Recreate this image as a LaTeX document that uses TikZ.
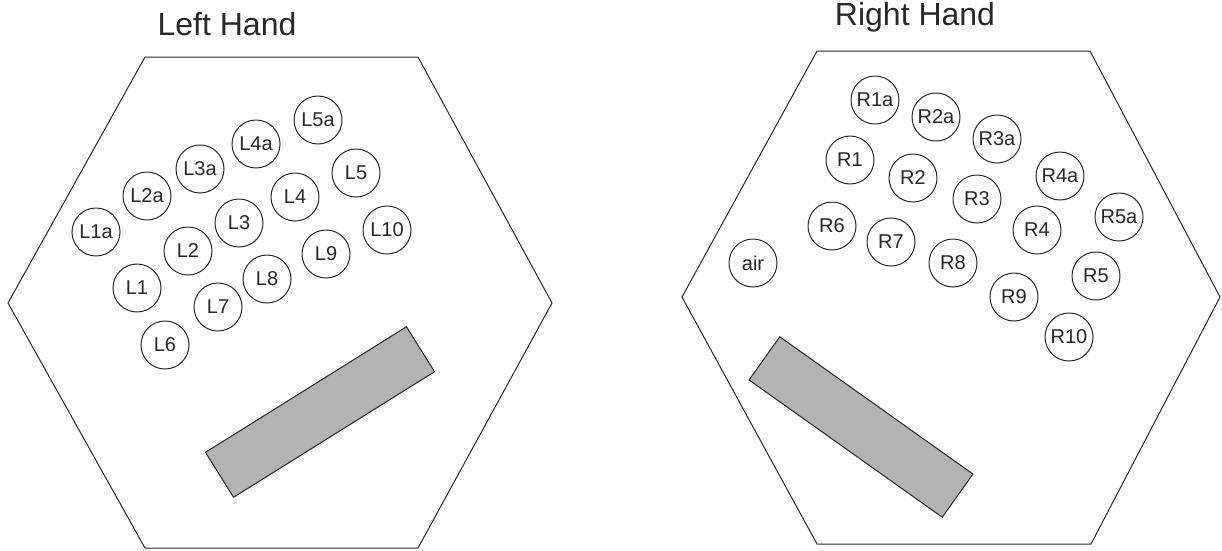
\documentclass[tikz,border=0pt]{standalone}
\usepackage{fontspec}
\setmainfont{Liberation Sans}
\definecolor{barfill}{RGB}{179,179,179}
\definecolor{ink}{RGB}{40,40,40}
\begin{document}
\begin{tikzpicture}[x=1pt,y=-1pt,
  key/.style={circle,draw=ink,line width=1pt,minimum size=48pt,inner sep=0pt,text=ink,font=\fontsize{20}{24}\selectfont},
  hex/.style={draw=ink,line width=1pt},
  bar/.style={draw=ink,line width=1pt,fill=barfill,minimum width=237pt,minimum height=53pt,inner sep=0pt},
  title/.style={anchor=base,text=ink,font=\fontsize{32}{38}\selectfont}]
\useasboundingbox (0,0) rectangle (1222,550);
% ---------- Left hand ----------
\node[title] (tl) at (227,35) {Left Hand};
\coordinate (la) at (145,57);
\coordinate (lb) at (418,57);
\coordinate (lc) at (552,303);
\coordinate (ld) at (418,548);
\coordinate (le) at (145,548);
\coordinate (lf) at (8,303);
\draw[hex] (la) -- (lb) -- (lc) -- (ld) -- (le) -- (lf) -- cycle;
\node[key] (L5a) at (318,120) {L5a};
\node[key] (L4a) at (256,144) {L4a};
\node[key] (L3a) at (200,169) {L3a};
\node[key] (L2a) at (147,196) {L2a};
\node[key] (L1a) at (96,232) {L1a};
\node[key] (L5) at (356,173) {L5};
\node[key] (L4) at (295,197) {L4};
\node[key] (L3) at (239,223) {L3};
\node[key] (L2) at (188,251) {L2};
\node[key] (L1) at (137,288) {L1};
\node[key] (L10) at (387,230) {L10};
\node[key] (L9) at (326,254) {L9};
\node[key] (L8) at (267,279) {L8};
\node[key] (L7) at (218,307) {L7};
\node[key] (L6) at (165,345) {L6};
\node[bar,rotate=32] (lbar) at (320,412) {};
% ---------- Right hand ----------
\node[title] (tr) at (915,25) {Right Hand};
\coordinate (ra) at (817,51);
\coordinate (rb) at (1090,51);
\coordinate (rc) at (1220,297);
\coordinate (rd) at (1091,544);
\coordinate (re) at (817,544);
\coordinate (rf) at (682,297);
\draw[hex] (ra) -- (rb) -- (rc) -- (rd) -- (re) -- (rf) -- cycle;
\node[key] (R1a) at (875,100) {R1a};
\node[key] (R2a) at (936,117) {R2a};
\node[key] (R3a) at (997,139) {R3a};
\node[key] (R4a) at (1060,176) {R4a};
\node[key] (R5a) at (1119,217) {R5a};
\node[key] (R1) at (850,160) {R1};
\node[key] (R2) at (913,178) {R2};
\node[key] (R3) at (977,199) {R3};
\node[key] (R4) at (1037,230) {R4};
\node[key] (R5) at (1096,276) {R5};
\node[key] (R6) at (832,226) {R6};
\node[key] (R7) at (891,242) {R7};
\node[key] (R8) at (953,263) {R8};
\node[key] (R9) at (1014,297) {R9};
\node[key] (R10) at (1069,337) {R10};
\node[key] (air) at (753,263) {air};
\node[bar,rotate=-35.4] (rbar) at (861,427) {};
\end{tikzpicture}
\end{document}
